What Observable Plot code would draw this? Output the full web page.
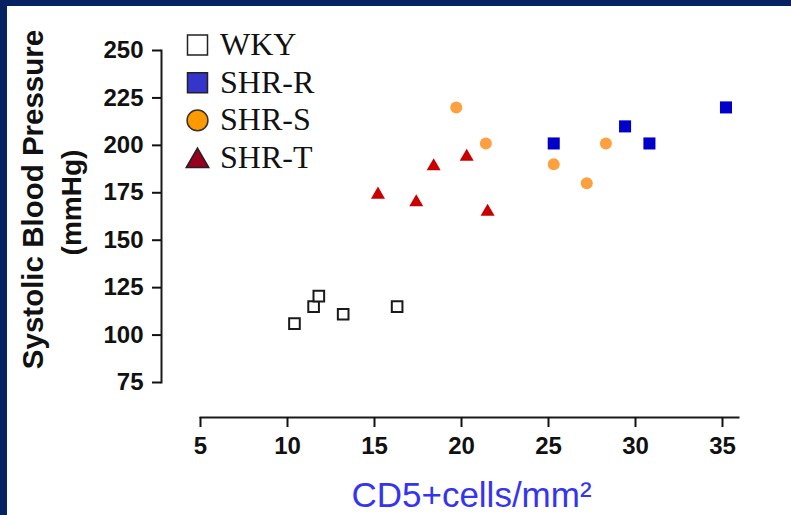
<!DOCTYPE html>
<html><head><meta charset="utf-8">
<script src="https://cdn.jsdelivr.net/npm/d3@7"></script>
<script src="https://cdn.jsdelivr.net/npm/@observablehq/plot@0.6"></script>
<style>
html,body{margin:0;padding:0;background:#062263;}
body{width:791px;height:515px;overflow:hidden;position:relative;}
#panel{position:absolute;left:7px;top:6px;width:784px;height:509px;background:#fff;}
#panel svg{overflow:visible;}
#legend{position:absolute;left:0;top:0;}
</style></head><body><div id="panel"></div>
<script>
// ---- data ----
const groups = ["WKY", "SHR-R", "SHR-S", "SHR-T"];
const wkyX  = [10.4, 11.5, 11.8, 13.2, 16.3];
const wkyY  = [106, 115, 120.5, 111, 115];
const shrRX = [25.3, 29.4, 30.8, 35.2];
const shrRY = [201, 210, 201, 220];
const shrSX = [19.7, 21.4, 25.3, 27.2, 28.3];
const shrSY = [220, 201, 190, 180, 201];
const shrTX = [15.2, 17.4, 18.4, 20.3, 21.5];
const shrTY = [174, 170, 189, 194, 165];
const xTicks = [5, 10, 15, 20, 25, 30, 35];
const yTicks = [75, 100, 125, 150, 175, 200, 225, 250];
const yLabelLines = ["Systolic Blood Pressure", "(mmHg)"];
const xLabel = "CD5+cells/mm\u00B2";

const rows = (xs, ys, g) => xs.map((x, i) => ({group: g, x, y: ys[i]}));
const wky = rows(wkyX, wkyY, groups[0]);
const shrR = rows(shrRX, shrRY, groups[1]);
const shrS = rows(shrSX, shrSY, groups[2]);
const shrT = rows(shrTX, shrTY, groups[3]);

const sans = "'Liberation Sans', Arial, sans-serif";
const tickFont = {fontSize: 24, fontWeight: "bold", fontFamily: sans};

const chart = Plot.plot({
  width: 784, height: 509,
  marginLeft: 193, marginRight: 69, marginTop: 44, marginBottom: 133,
  style: {background: "transparent", color: "#111"},
  x: {domain: [5, 35]},
  y: {domain: [75, 250]},
  marks: [
    Plot.frame({anchor: "left", dx: -39, stroke: "#1a1a1a", strokeWidth: 2}),
    Plot.frame({anchor: "bottom", dy: 35, insetRight: -16, stroke: "#1a1a1a", strokeWidth: 2}),
    Plot.axisY({ticks: yTicks, dx: -39, tickSize: 9, tickPadding: 9, label: null, strokeWidth: 2, ...tickFont}),
    Plot.axisX({ticks: xTicks, dy: 35, tickSize: 10, tickPadding: 9, label: null, strokeWidth: 2, ...tickFont}),
    Plot.text(yLabelLines.slice(0, 1), {text: d => d, frameAnchor: "left", textAnchor: "middle", rotate: -90, dx: -167, dy: -17,
      lineAnchor: "middle", fontSize: 29.5, fontWeight: "bold", fontFamily: sans, fill: "#111"}),
    Plot.text(yLabelLines.slice(1), {text: d => d, frameAnchor: "left", textAnchor: "middle", rotate: -90, dx: -128, dy: -14,
      lineAnchor: "middle", fontSize: 28, fontWeight: "bold", fontFamily: sans, fill: "#111"}),
    Plot.text([xLabel], {text: d => d, frameAnchor: "bottom", textAnchor: "middle", dx: 10, dy: 124, lineAnchor: "bottom",
      fontSize: 35, fontFamily: sans, fill: "#3535f0"}),
    Plot.dot(wky, {x: "x", y: "y", symbol: "square", r: 6, fill: "white", stroke: "#1a1a1a", strokeWidth: 2}),
    Plot.dot(shrR, {x: "x", y: "y", symbol: "square", r: 6.8, fill: "#0000c8"}),
    Plot.dot(shrS, {x: "x", y: "y", symbol: "circle", r: 6, fill: "#ffa040"}),
    Plot.dot(shrT, {x: "x", y: "y", symbol: "triangle", r: 5.2, fill: "#c80000"})
  ]
});
const panel = document.getElementById("panel");
panel.appendChild(chart);

// ---- legend ----
const legendStyles = [
  {sym: d3.symbolSquare, size: 400, fill: "#ffffff", stroke: "#222", dy: 0},
  {sym: d3.symbolSquare, size: 400, fill: "#3535cc", stroke: "#222", dy: 0},
  {sym: d3.symbolCircle, size: 340, fill: "#ff9900", stroke: "#333", dy: 0},
  {sym: d3.symbolTriangle, size: 220, fill: "#990020", stroke: "#222", dy: 3}
];
const leg = d3.create("svg").attr("id", "legend").attr("width", 784).attr("height", 509)
  .style("pointer-events", "none");
groups.forEach((g, i) => {
  const base = 49 + i * 37.7;
  const s = legendStyles[i];
  leg.append("path")
    .attr("d", d3.symbol(s.sym, s.size)())
    .attr("transform", `translate(190.5,${base - 10 + s.dy})`)
    .attr("fill", s.fill).attr("stroke", s.stroke).attr("stroke-width", 1.5);
  leg.append("text").attr("x", 213).attr("y", base)
    .attr("font-family", "'Liberation Serif', 'Times New Roman', serif")
    .attr("font-size", 32).attr("fill", "#111").text(g);
});
panel.appendChild(leg.node());
</script></body></html>
